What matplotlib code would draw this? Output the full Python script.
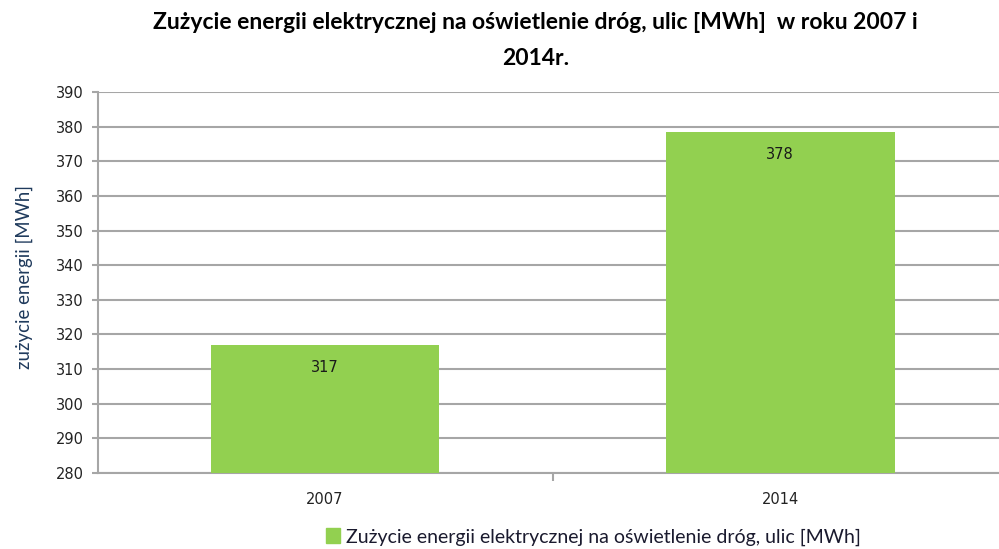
import matplotlib
matplotlib.use('Agg')
import matplotlib.pyplot as plt
from matplotlib.patches import Patch

# dane
lata = ['2007', '2014']
zuzycie = [316.9, 378.4]
etykiety = ['317', '378']

tytul = 'Zużycie energii elektrycznej na oświetlenie dróg, ulic [MWh]  w roku 2007 i\n2014r.'
opis_y = 'zużycie energii [MWh]'
opis_serii = 'Zużycie energii elektrycznej na oświetlenie dróg, ulic [MWh]'

zielony = '#92D050'
szary = '#A6A6A6'

fig = plt.figure(figsize=(9.99, 5.49), dpi=100)
ax = fig.add_axes([0.0976, 0.1384, 0.911, 0.694])

x = range(len(lata))
ax.bar(x, zuzycie, width=0.503, color=zielony, zorder=3)
for xi, v, lab in zip(x, zuzycie, etykiety):
	ax.annotate(lab, (xi, v), xytext=(0, -16), textcoords='offset points',
		ha='center', va='center', fontsize=10.5, color='#1a1a1a', zorder=4)

ax.set_xlim(-0.5, 1.5)
ax.set_ylim(280, 390)
ax.set_yticks(range(280, 391, 10))
ax.set_xticks([0.5], minor=False)
ax.set_xticks(x, minor=True)
ax.set_xticklabels([''])
ax.set_xticklabels(lata, minor=True)
ax.tick_params(axis='x', which='minor', length=0, pad=14, labelsize=10.5, labelcolor='#222222')
ax.tick_params(axis='x', which='major', length=6, width=1.5, color=szary, direction='out')
ax.tick_params(axis='y', length=4, width=1.5, color=szary, labelsize=10.5, labelcolor='#222222', pad=6)

ax.grid(axis='y', color=szary, linewidth=1.5, zorder=0)
for s in ['top', 'right']:
	ax.spines[s].set_visible(False)
for s in ['left', 'bottom']:
	ax.spines[s].set_color(szary)
	ax.spines[s].set_linewidth(1.5)

ax.set_ylabel(opis_y, fontsize=13.4, family=['Lato', 'DejaVu Sans'], color='#1F3A5C')
ax.yaxis.set_label_coords(-0.071, 0.515)

fig.text(0.536, 0.978, tytul, ha='center', va='top', fontsize=16.5, fontweight='bold',
	family=['Lato', 'DejaVu Sans'], linespacing=1.85)

fig.legend(handles=[Patch(color=zielony, label=opis_serii)], loc='center',
	bbox_to_anchor=(0.594, 0.022), frameon=False,
	prop={'family': ['Lato', 'DejaVu Sans'], 'size': 14},
	handlelength=0.75, handleheight=0.75, handletextpad=0.3, labelcolor='#1a1a2e')

fig.savefig('out.png', dpi=100)
